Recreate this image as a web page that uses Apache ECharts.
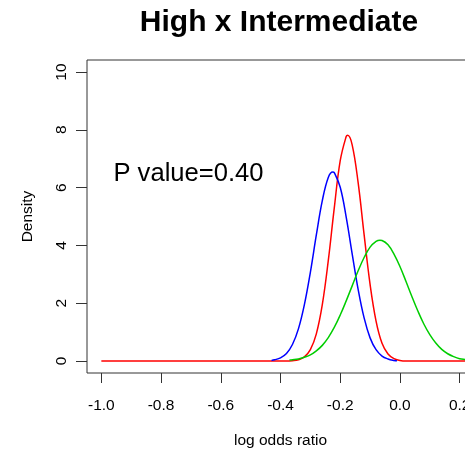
<!DOCTYPE html>
<html>
<head>
<meta charset="utf-8">
<script src="https://cdn.jsdelivr.net/npm/echarts@6/dist/echarts.min.js"></script>
<style>
html,body{margin:0;padding:0;background:#fff;}
#chart{width:465px;height:451px;}
</style>
</head>
<body>
<div id="chart"></div>
<script>
// ---- data ----
var titleText = 'High x Intermediate';
var pValueText = 'P value=0.40';
var xName = 'log odds ratio';
var yName = 'Density';

var xTicks = [-1.0, -0.8, -0.6, -0.4, -0.2, 0.0, 0.2];
var yTicks = [0, 2, 4, 6, 8, 10];

var redX = [-1.0, -0.38, -0.36, -0.34, -0.32, -0.30, -0.28, -0.26, -0.24, -0.22, -0.20, -0.18, -0.175, -0.16, -0.14, -0.12, -0.10, -0.08, -0.06, -0.04, -0.02, 0.00, 0.02, 0.26];
var redY = [0, 0, 0.01, 0.04, 0.14, 0.39, 0.94, 1.95, 3.47, 5.29, 6.93, 7.77, 7.81, 7.48, 6.17, 4.37, 2.65, 1.38, 0.61, 0.24, 0.08, 0.02, 0, 0];

var blueX = [-0.43, -0.42, -0.40, -0.38, -0.36, -0.34, -0.32, -0.30, -0.28, -0.26, -0.24, -0.225, -0.22, -0.20, -0.18, -0.16, -0.14, -0.12, -0.10, -0.08, -0.06, -0.04, -0.02, -0.01];
var blueY = [0.02, 0.04, 0.11, 0.26, 0.57, 1.11, 1.95, 3.07, 4.36, 5.55, 6.35, 6.54, 6.52, 6.01, 4.98, 3.71, 2.48, 1.49, 0.80, 0.39, 0.17, 0.07, 0.02, 0.01];

var greenX = [-0.37, -0.36, -0.34, -0.32, -0.30, -0.28, -0.26, -0.24, -0.22, -0.20, -0.18, -0.16, -0.14, -0.12, -0.10, -0.08, -0.067, -0.06, -0.04, -0.02, 0.00, 0.02, 0.04, 0.06, 0.08, 0.10, 0.12, 0.14, 0.16, 0.18, 0.20, 0.22, 0.24, 0.26];
var greenY = [0.03, 0.04, 0.07, 0.13, 0.21, 0.35, 0.54, 0.81, 1.16, 1.59, 2.08, 2.60, 3.12, 3.58, 3.94, 4.14, 4.18, 4.17, 4.02, 3.70, 3.27, 2.76, 2.23, 1.73, 1.28, 0.91, 0.62, 0.40, 0.25, 0.15, 0.08, 0.05, 0.02, 0.01];

function pairs(xs, ys) {
  return xs.map(function (x, i) { return [x, ys[i]]; });
}

var FONT = "'Liberation Sans', Arial, Helvetica, sans-serif";
var chart = echarts.init(document.getElementById('chart'), null, {renderer: 'canvas'});

var lineSeries = function (name, color, data) {
  return {
    name: name,
    type: 'line',
    data: data,
    showSymbol: false,
    symbol: 'none',
    smooth: 0.4,
    lineStyle: {color: color, width: 1.5},
    clip: true,
    silent: true
  };
};

chart.setOption({
  animation: false,
  backgroundColor: '#fff',
  grid: {
    left: 87, top: 60, width: 387, height: 313,
    containLabel: false,
    outerBoundsMode: 'none',
    show: true, borderColor: '#333', borderWidth: 1,
    backgroundColor: 'transparent'
  },
  xAxis: {
    type: 'value',
    min: -1.048, max: 0.248,
    name: xName,
    nameLocation: 'middle',
    nameGap: 60,
    nameTextStyle: {fontFamily: FONT, fontSize: 15.5, color: '#000'},
    axisLine: {show: false, onZero: false},
    splitLine: {show: false},
    axisTick: {show: true, inside: false, length: 10, customValues: xTicks, lineStyle: {color: '#333', width: 1}},
    axisLabel: {
      show: true, margin: 25, customValues: xTicks,
      fontFamily: FONT, fontSize: 15.5, color: '#000',
      formatter: function (v) { return v.toFixed(1); }
    }
  },
  yAxis: {
    type: 'value',
    min: -0.416, max: 10.416,
    name: yName,
    nameLocation: 'middle',
    nameGap: 51,
    nameRotate: 90,
    nameTextStyle: {fontFamily: FONT, fontSize: 15.5, color: '#000'},
    axisLine: {show: false, onZero: false},
    splitLine: {show: false},
    axisTick: {show: true, inside: false, length: 11, customValues: yTicks, lineStyle: {color: '#333', width: 1}},
    axisLabel: {
      show: true, margin: 17, rotate: 90, customValues: yTicks,
      fontFamily: FONT, fontSize: 15.5, color: '#000',
      formatter: function (v) { return String(v); }
    }
  },
  graphic: [
    {
      type: 'text', x: 279, y: 22.5,
      style: {text: titleText, fontFamily: FONT, fontSize: 30, fontWeight: 'bold', fill: '#000', textAlign: 'center', textVerticalAlign: 'middle'}
    },
    {
      type: 'text', x: 188.5, y: 174,
      style: {text: pValueText, fontFamily: FONT, fontSize: 25.6, fill: '#000', textAlign: 'center', textVerticalAlign: 'middle'}
    }
  ],
  series: [
    lineSeries('red', '#FF0000', pairs(redX, redY)),
    lineSeries('blue', '#0000FF', pairs(blueX, blueY)),
    lineSeries('green', '#00CD00', pairs(greenX, greenY))
  ]
});
</script>
</body>
</html>
